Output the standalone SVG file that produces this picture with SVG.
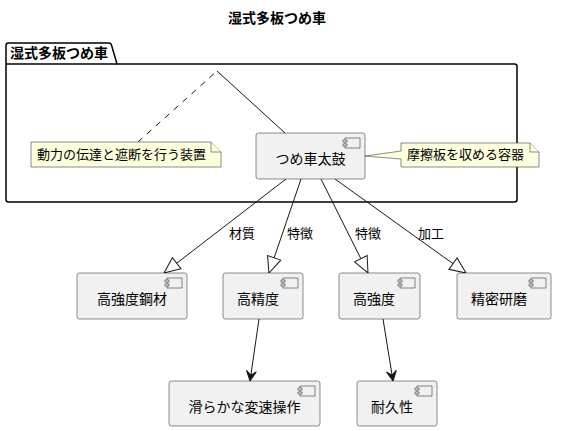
<svg xmlns="http://www.w3.org/2000/svg" width="568" height="431" viewBox="0 0 568 431">
<style>
text{font-family:"Noto Sans CJK JP","Noto Sans CJK SC",sans-serif;fill:#000}
.title{font-size:14px;font-weight:bold}
.comp rect.box{fill:#F1F1F1;stroke:#181818;stroke-width:0.5}
.comp text{font-size:14px;text-anchor:middle}
.icon{fill:#F1F1F1;stroke:#181818;stroke-width:0.5}
.note path{fill:#FEFFDD;stroke:#181818;stroke-width:0.5}
.note text{font-size:13px}
.edge{fill:none;stroke:#181818;stroke-width:1}
.lbl{font-size:13px}
</style>
<defs>
<marker id="ext" markerUnits="userSpaceOnUse" markerWidth="20" markerHeight="16" viewBox="0 0 20 16" refX="17" refY="8" orient="auto">
<path d="M17,8 L1,1 L1,15 Z" fill="#FFFFFF" stroke="#181818" stroke-width="1"/>
</marker>
<marker id="arr" markerUnits="userSpaceOnUse" markerWidth="12" markerHeight="12" viewBox="0 0 12 12" refX="11" refY="6" orient="auto">
<path d="M11,6 L1,1 L5,6 L1,11 Z" fill="#181818" stroke="#181818" stroke-width="1"/>
</marker>
</defs>
<text class="title" x="277" y="23" text-anchor="middle">湿式多板つめ車</text>
<g id="pkg">
<path d="M8.5,43 L109,43 A2.5,2.5 0 0 1 111.4,44.8 L117,64 L514.5,64 A2.5,2.5 0 0 1 517,66.5 L517,199.5 A2.5,2.5 0 0 1 514.5,202 L8.5,202 A2.5,2.5 0 0 1 6,199.5 L6,45.5 A2.5,2.5 0 0 1 8.5,43 Z" fill="#FFFFFF" stroke="#000000" stroke-width="1.5"/>
<line x1="6" y1="64" x2="117" y2="64" stroke="#000000" stroke-width="1.5"/>
<text class="title" x="10" y="58">湿式多板つめ車</text>
</g>
<g id="connectors">
<path class="edge" d="M138,142 L217,71" stroke-dasharray="6,6"/>
<path class="edge" d="M217,71 L285,133"/>
<path class="edge" d="M286,179 L164,273" marker-end="url(#ext)"/>
<path class="edge" d="M301,179 L269,273" marker-end="url(#ext)"/>
<path class="edge" d="M321,179 L368,273" marker-end="url(#ext)"/>
<path class="edge" d="M335,179 L466,273" marker-end="url(#ext)"/>
<path class="edge" d="M259,319 L250,381" marker-end="url(#arr)"/>
<path class="edge" d="M383,319 L393,381" marker-end="url(#arr)"/>
<text class="lbl" x="229" y="238">材質</text>
<text class="lbl" x="287" y="238">特徴</text>
<text class="lbl" x="355" y="238">特徴</text>
<text class="lbl" x="418" y="238">加工</text>
</g>
<g id="note1" class="note">
<path d="M31,142 L211,142 L221,152 L221,167 L31,167 Z"/>
<path d="M211,142 L211,152 L221,152"/>
<text x="37" y="159">動力の伝達と遮断を行う装置</text>
</g>
<g id="note2" class="note">
<path d="M401,143 L530,143 L539,152 L539,167 L401,167 L401,159 L365,156 L401,151 Z"/>
<path d="M530,143 L530,152 L539,152"/>
<text x="407" y="159">摩擦板を収める容器</text>
</g>
<g id="tsumeguruma" class="comp">
<rect class="box" x="256" y="133" width="109" height="46" rx="2.5"/>
<rect class="icon" x="345" y="138" width="15" height="10"/>
<rect class="icon" x="343" y="140" width="4" height="2"/>
<rect class="icon" x="343" y="144" width="4" height="2"/>
<text x="310.5" y="164">つめ車太鼓</text>
</g>
<g id="koukyoudokouzai" class="comp">
<rect class="box" x="77" y="273" width="110" height="46" rx="2.5"/>
<rect class="icon" x="167" y="278" width="15" height="10"/>
<rect class="icon" x="165" y="280" width="4" height="2"/>
<rect class="icon" x="165" y="284" width="4" height="2"/>
<text x="132" y="304">高強度鋼材</text>
</g>
<g id="kouseido" class="comp">
<rect class="box" x="223" y="273" width="80" height="46" rx="2.5"/>
<rect class="icon" x="283" y="278" width="15" height="10"/>
<rect class="icon" x="281" y="280" width="4" height="2"/>
<rect class="icon" x="281" y="284" width="4" height="2"/>
<text x="258" y="304">高精度</text>
</g>
<g id="koukyoudo" class="comp">
<rect class="box" x="339" y="273" width="81" height="46" rx="2.5"/>
<rect class="icon" x="400" y="278" width="15" height="10"/>
<rect class="icon" x="398" y="280" width="4" height="2"/>
<rect class="icon" x="398" y="284" width="4" height="2"/>
<text x="374" y="304">高強度</text>
</g>
<g id="seimitsukenma" class="comp">
<rect class="box" x="457" y="273" width="94" height="46" rx="2.5"/>
<rect class="icon" x="531" y="278" width="15" height="10"/>
<rect class="icon" x="529" y="280" width="4" height="2"/>
<rect class="icon" x="529" y="284" width="4" height="2"/>
<text x="499" y="304">精密研磨</text>
</g>
<g id="nameraka" class="comp">
<rect class="box" x="169" y="381" width="151" height="45" rx="2.5"/>
<rect class="icon" x="300" y="386" width="15" height="10"/>
<rect class="icon" x="298" y="388" width="4" height="2"/>
<rect class="icon" x="298" y="392" width="4" height="2"/>
<text x="244.5" y="412">滑らかな変速操作</text>
</g>
<g id="taikyuusei" class="comp">
<rect class="box" x="357" y="381" width="80" height="45" rx="2.5"/>
<rect class="icon" x="417" y="386" width="15" height="10"/>
<rect class="icon" x="415" y="388" width="4" height="2"/>
<rect class="icon" x="415" y="392" width="4" height="2"/>
<text x="392" y="412">耐久性</text>
</g>
</svg>
